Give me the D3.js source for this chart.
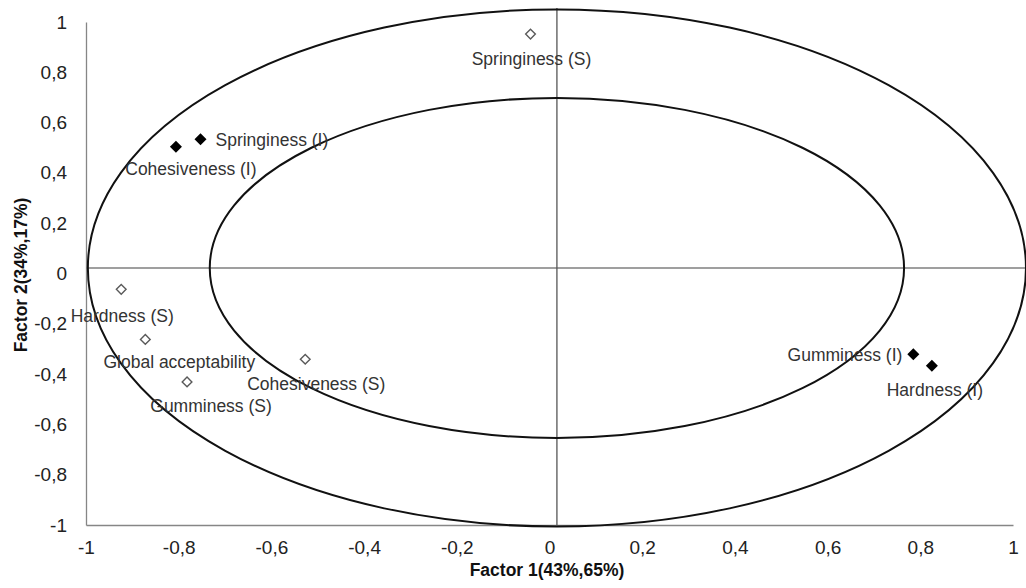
<!DOCTYPE html>
<html>
<head>
<meta charset="utf-8">
<script src="https://cdn.jsdelivr.net/npm/d3@7"></script>
<style>
  body { margin: 0; background: #fff; }
  svg { display: block; }
  text { font-family: "Liberation Sans", Arial, sans-serif; }
</style>
</head>
<body>
<div id="chart-area"></div>
<script>
// DATA
const attributes = ["Springiness (S)", "Springiness (I)", "Cohesiveness (I)", "Hardness (S)",
  "Global acceptability", "Gumminess (S)", "Cohesiveness (S)", "Gumminess (I)", "Hardness (I)"]
const factor1 = [-0.041, -0.753, -0.806, -0.924, -0.872, -0.782, -0.527, 0.785, 0.825]
const factor2 = [0.952, 0.534, 0.504, -0.063, -0.262, -0.431, -0.341, -0.321, -0.367]
const filled = [false, true, true, false, false, false, false, true, true]

const xTicks = [-1, -0.8, -0.6, -0.4, -0.2, 0, 0.2, 0.4, 0.6, 0.8, 1]
const yTicks = [-1, -0.8, -0.6, -0.4, -0.2, 0, 0.2, 0.4, 0.6, 0.8, 1]

// circles of correlation, drawn in data units
const ellipseCenter = [0.016, 0.022]
const ellipseRadii = [[1.012, 1.028], [0.749, 0.676]]

// label placement (pixels from the marker)
const labelAnchor = ["middle", "start", "middle", "middle", "middle", "middle", "middle", "end", "middle"]
const labelDx = [1, 15, 15, 1, 34, 24, 11, -11, 3]
const labelDy = [25, 1, 22, 27, 22, 24, 25, 1, 24]

const width = 1026, height = 588
const x = d3.scaleLinear().domain([-1, 1]).range([86, 1013])
const y = d3.scaleLinear().domain([-1, 1]).range([525, 22])
const fmt = d => String(d).replace(".", ",")

const svg = d3.select("#chart-area").append("svg").attr("width", width).attr("height", height)

// axes
const xAxis = svg.append("g")
  .attr("transform", `translate(0,${y(-1)})`)
  .call(d3.axisBottom(x).tickValues(xTicks).tickFormat(fmt).tickSize(0).tickPadding(16))
xAxis.select(".domain").attr("stroke", "#868686").attr("stroke-width", 1.3)
xAxis.selectAll("text").attr("font-size", 19).attr("fill", "#222").attr("font-family", "Liberation Sans, Arial, sans-serif")

const yAxis = svg.append("g")
  .attr("transform", `translate(${x(-1)},0)`)
  .call(d3.axisLeft(y).tickValues(yTicks).tickFormat(fmt).tickSize(0).tickPadding(19))
yAxis.select(".domain").attr("stroke", "#868686").attr("stroke-width", 1.3)
yAxis.selectAll("text").attr("font-size", 19).attr("fill", "#222").attr("font-family", "Liberation Sans, Arial, sans-serif")

// cross lines through the ellipse centre
svg.append("line")
  .attr("x1", x(-1)).attr("x2", width)
  .attr("y1", y(ellipseCenter[1])).attr("y2", y(ellipseCenter[1]))
  .attr("stroke", "#7f7f7f").attr("stroke-width", 1.5)
svg.append("line")
  .attr("x1", x(ellipseCenter[0])).attr("x2", x(ellipseCenter[0]))
  .attr("y1", 8).attr("y2", y(-1))
  .attr("stroke", "#555").attr("stroke-width", 1.3)

// ellipses
svg.selectAll("ellipse").data(ellipseRadii).enter()
  .append("ellipse")
  .attr("cx", x(ellipseCenter[0]))
  .attr("cy", y(ellipseCenter[1]))
  .attr("rx", d => x(ellipseCenter[0] + d[0]) - x(ellipseCenter[0]))
  .attr("ry", d => y(ellipseCenter[1]) - y(ellipseCenter[1] + d[1]))
  .attr("fill", "none")
  .attr("stroke", "#111")
  .attr("stroke-width", 2)

// points
const idx = d3.range(attributes.length)
svg.selectAll("path.point").data(idx).enter()
  .append("path")
  .attr("class", "point")
  .attr("transform", i => `translate(${x(factor1[i])},${y(factor2[i])})`)
  .attr("d", i => d3.symbol().type(d3.symbolDiamond2).size(filled[i] ? 92 : 60)())
  .attr("fill", i => filled[i] ? "#000" : "#fff")
  .attr("stroke", i => filled[i] ? "none" : "#5a5a5a")
  .attr("stroke-width", 1.4)

// labels
svg.selectAll("text.label").data(idx).enter()
  .append("text")
  .attr("class", "label")
  .attr("x", i => x(factor1[i]) + labelDx[i])
  .attr("y", i => y(factor2[i]) + labelDy[i])
  .attr("dy", "0.35em")
  .attr("text-anchor", i => labelAnchor[i])
  .attr("font-size", 17.5)
  .attr("fill", "#333")
  .text(i => attributes[i])

// axis titles
svg.append("text")
  .attr("x", 547).attr("y", 576)
  .attr("text-anchor", "middle")
  .attr("font-size", 17.5).attr("font-weight", "bold").attr("fill", "#111")
  .text("Factor 1(43%,65%)")
svg.append("text")
  .attr("transform", "translate(27,275) rotate(-90)")
  .attr("text-anchor", "middle")
  .attr("font-size", 17.5).attr("font-weight", "bold").attr("fill", "#111")
  .text("Factor 2(34%,17%)")
</script>
</body>
</html>
